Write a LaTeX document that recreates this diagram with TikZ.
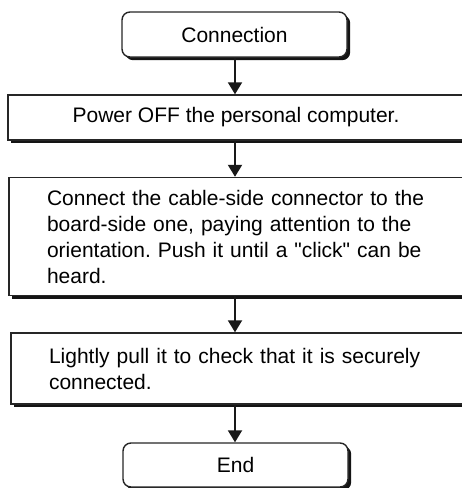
\documentclass[tikz,border=0pt]{standalone}
\usepackage{fontspec}
\setmainfont{Liberation Sans}
\usetikzlibrary{arrows.meta,shadows}
\definecolor{edge}{HTML}{262626}
\tikzset{
  shad/.style={drop shadow={shadow xshift=3.2pt,shadow yshift=-3.2pt,fill=black!92,opacity=1}},
  termbox/.style={draw=edge,line width=1.4pt,fill=white,rounded corners=8pt,shad,
    minimum width=225pt,inner sep=0pt,font=\fontsize{21}{26}\selectfont},
  procbox/.style={draw=edge,line width=1.4pt,fill=white,shad,
    minimum width=456pt,inner sep=0pt,font=\fontsize{21}{26}\selectfont\frenchspacing},
  flow/.style={line width=2pt,draw=black!90,-{Triangle[width=14pt,length=12pt]}}
}
\begin{document}
\begin{tikzpicture}[x=1pt,y=-1pt]
\useasboundingbox (0,0) rectangle (462,488);
\node[termbox,minimum height=45pt] (start) at (234.5,34.5) {Connection};
\node[procbox,minimum height=45pt] (power) at (236,117.5) {Power OFF the personal computer.};
\node[procbox,minimum height=118pt,text width=380pt,align=left] (connect) at (237,236.5)
  {Connect the cable-side connector to the board-side one, paying attention to the orientation. Push it until a \textquotedbl click\textquotedbl\ can be heard.};
\node[procbox,minimum height=71pt,text width=380pt,align=left] (check) at (239,368.5)
  {Lightly pull it to check that it is securely connected.};
\node[termbox,minimum height=44pt] (stop) at (235.5,465) {End};
\draw[flow] (start.south) ++(0.5,0) -- (power.north -| 235,0);
\draw[flow] (power.south -| 235,0) -- (connect.north -| 235,0);
\draw[flow] (connect.south -| 235,0) -- (check.north -| 235,0);
\draw[flow] (check.south -| 235,0) -- (stop.north -| 235,0);
\end{tikzpicture}
\end{document}
